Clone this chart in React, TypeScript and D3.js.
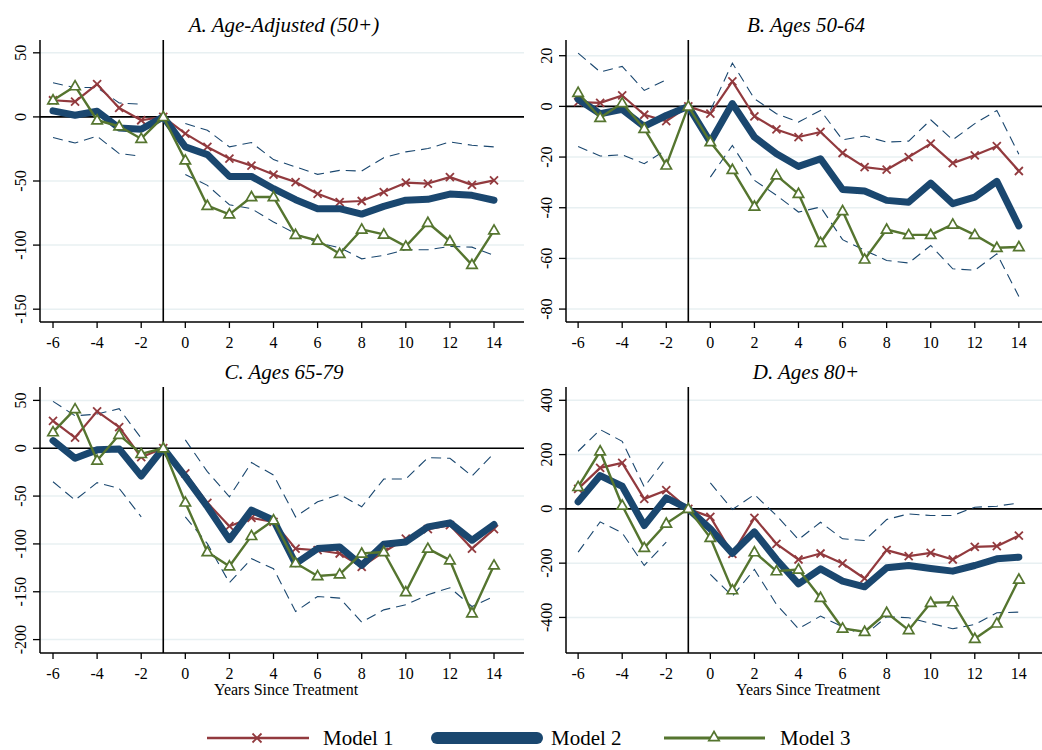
import React from "react";
import { scaleLinear, line } from "d3";

// event time, -6 .. 14 (reference year -1 normalised to zero)
const years = [-6, -5, -4, -3, -2, -1, 0, 1, 2, 3, 4, 5, 6, 7, 8, 9, 10, 11, 12, 13, 14];
const xTicks = [-6, -4, -2, 0, 2, 4, 6, 8, 10, 12, 14];

// A. Age-Adjusted (50+)
const aModel1 = [13, 12, 25.5, 7, -2.6, 0, -13, -23.4, -32.5, -38, -45, -50.8, -60, -66.4, -65.6, -58.6, -51.3, -52, -47, -53, -49.5];
const aModel2 = [4.7, 1.3, 4.4, -8.6, -9.6, 0, -23.4, -29.4, -46.4, -46.4, -56, -64.6, -71.6, -71.6, -75.8, -69.8, -65, -64.3, -60.2, -61.2, -65];
const aModel3 = [13, 24, -2.6, -7.3, -17, 0, -33.9, -69.3, -76, -62.5, -62.5, -92, -96.4, -106.8, -87.8, -91.7, -101, -82.6, -97, -115.4, -88.5];
const aUpper = [26.6, 22.9, 22.9, 10.9, 9.9, null, -5.2, -10.4, -23.4, -20, -33.3, -39, -44.8, -41.7, -42.2, -31.8, -27.3, -24.7, -19.5, -22.1, -23.4];
const aLower = [-16.1, -20.3, -15.1, -28.6, -30.7, null, -45, -53.4, -68.5, -71.6, -82, -91, -98.2, -102, -110.7, -108, -103.6, -103.6, -101, -101.6, -108];
const aTicks = [50, 0, -50, -100, -150];

// B. Ages 50-64
const bModel1 = [1.7, 1.4, 4.3, -3.3, -5.8, 0, -2.9, 9.9, -3.9, -9.1, -12.1, -10.1, -18.4, -24, -25, -20, -14.7, -22.4, -19.3, -15.7, -25.5];
const bModel2 = [2.8, -2.9, -1.2, -7.9, -3.6, 0, -14.1, 1.1, -12.1, -18.7, -23.7, -20.7, -32.8, -33.4, -37.1, -37.8, -30.3, -38.4, -35.8, -29.6, -47.2];
const bModel3 = [5.4, -4.5, 1.3, -8.8, -23.3, 0, -14.1, -25, -39.5, -27.2, -34.5, -53.8, -41.3, -60.4, -48.6, -50.7, -50.7, -46.6, -50.7, -55.8, -55.5];
const bUpper = [21, 13.6, 15.8, 6.3, 10.5, null, -1.6, 17.1, 3, -2.9, -6.2, -1.6, -13.2, -11.7, -14.1, -13.7, -5.3, -13.2, -6.8, -1.6, -18.9];
const bLower = [-15.8, -19.6, -19.1, -22.6, -17.1, null, -27.9, -15.4, -29.2, -35.1, -41.7, -39.7, -52.6, -56.8, -60.8, -61.8, -54.9, -64.1, -64.7, -58.2, -75];
const bTicks = [20, 0, -20, -40, -60, -80];

// C. Ages 65-79
const cModel1 = [28.7, 11.2, 38.5, 22, -9.4, 0, -26.2, -57, -81.5, -72.7, -77, -104.9, -106.6, -110, -124, -108.4, -94.4, -84.6, -80.4, -104.9, -84.6];
const cModel2 = [8, -10.5, -1.7, -0.7, -29, 0, -29.7, -61.2, -95.5, -64.7, -75.2, -120.6, -104.9, -103.1, -122.4, -100.3, -97.9, -82.2, -78, -96.2, -79.7];
const cModel3 = [16.8, 40.9, -12.9, 14, -5.9, 0, -56.6, -108.4, -123.4, -91.6, -75.2, -120, -133.6, -131.8, -110, -108.4, -150.3, -104.9, -117, -172.4, -122.4];
const cUpper = [49, 33.9, 35.7, 41.3, 10.5, null, 8.7, -24.5, -50.7, -15, -28, -71.7, -56, -48.3, -61.2, -32.2, -32.2, -9.8, -10.5, -29, -5.2];
const cLower = [-35, -54.2, -36, -42, -71.7, null, -71.7, -99.7, -140.6, -115.4, -125.9, -170.6, -154.9, -156.6, -181.8, -168.9, -163.6, -153.1, -145.8, -165.4, -154.9];
const cTicks = [50, 0, -50, -100, -150, -200];

// D. Ages 80+
const dModel1 = [73.6, 150.9, 169.3, 36.8, 68.7, 0, -29.4, -165.6, -33, -128.8, -186.5, -164.4, -201.2, -256.4, -152.1, -174.2, -162, -186.5, -139.9, -137.4, -98.2];
const dModel2 = [25.8, 122.7, 83.4, -61.3, 40.5, 0, -73.6, -164.4, -84.7, -186.5, -276, -220.9, -266.3, -287.1, -217.2, -208.6, -219.6, -229.4, -208.6, -184, -177.9];
const dModel3 = [81, 212.3, 12.3, -143.6, -54, 0, -106.7, -299.4, -159.5, -229.4, -223.3, -327.6, -440.5, -452.8, -382.8, -446.6, -346, -343.6, -478.5, -422, -260.1];
const dUpper = [212.3, 292, 249, 81, 187.7, null, 95.7, -2.5, 52.8, -24.5, -112.9, -49.1, -110.4, -116.6, -39.3, -18.4, -24.5, -24.5, 6.1, 9.8, 22];
const dLower = [-159.5, -47.9, -88.3, -208.6, -122.7, null, -241.7, -321.5, -223.3, -352.1, -441.7, -395.1, -434.4, -465, -397.5, -401.2, -422, -441.7, -425.8, -382.8, -380.4];
const dTicks = [400, 200, 0, -200, -400];

const legendLabels = ["Model 1", "Model 2", "Model 3"];

const RED = "#923a3e";
const NAVY = "#1a476f";
const GREEN = "#55752f";
const GRID = "#e8f0f2";
const FONT = "'Liberation Serif', 'Times New Roman', serif";

const Cross = ({ cx, cy, s = 4 }: any) => (
    <g stroke={RED} strokeWidth={1.8}>
        <line x1={cx - s} y1={cy - s} x2={cx + s} y2={cy + s} />
        <line x1={cx - s} y1={cy + s} x2={cx + s} y2={cy - s} />
    </g>
);

const Tri = ({ cx, cy }: any) => (
    <path
        d={`M${cx},${cy - 5.5}L${cx + 5.2},${cy + 3.6}L${cx - 5.2},${cy + 3.6}Z`}
        fill="white"
        stroke={GREEN}
        strokeWidth={1.7}
    />
);

const Panel = ({ title, x0, x1, y0, y1, xDomain, yDomain, yTicks, m1, m2, m3, hi, lo, xTitle }: any) => {
    const x = scaleLinear().domain(xDomain).range([x0, x1]);
    const y = scaleLinear().domain(yDomain).range([y1, y0]);
    const path = line<any>()
        .defined((d: any) => d !== null)
        .x((_d: any, i: number) => x(years[i]))
        .y((d: any) => y(d));
    const cx = (x0 + x1) / 2 + 2;

    return (
        <g>
            <text x={cx} y={y0 - 8} textAnchor="middle" fontStyle="italic" fontSize={21} fontFamily={FONT}>
                {title}
            </text>
            {yTicks.map((t: number) => (
                <line key={"g" + t} x1={x0} x2={x1} y1={y(t)} y2={y(t)} stroke={GRID} strokeWidth={1.5} />
            ))}
            <line x1={x0} x2={x1} y1={y(0)} y2={y(0)} stroke="black" strokeWidth={1.6} />
            <line x1={x(-1)} x2={x(-1)} y1={y0} y2={y1} stroke="black" strokeWidth={1.6} />

            <path d={path(hi) || ""} fill="none" stroke={NAVY} strokeWidth={1.1} strokeDasharray="10,6" />
            <path d={path(lo) || ""} fill="none" stroke={NAVY} strokeWidth={1.1} strokeDasharray="10,6" />

            <path d={path(m1) || ""} fill="none" stroke={RED} strokeWidth={2.2} strokeLinejoin="round" />
            {m1.map((v: number, i: number) => (
                <Cross key={"x" + i} cx={x(years[i])} cy={y(v)} />
            ))}
            <path d={path(m2) || ""} fill="none" stroke={NAVY} strokeWidth={7} strokeLinejoin="round" strokeLinecap="round" />
            <path d={path(m3) || ""} fill="none" stroke={GREEN} strokeWidth={2.4} strokeLinejoin="round" />
            {m3.map((v: number, i: number) => (
                <Tri key={"t" + i} cx={x(years[i])} cy={y(v)} />
            ))}

            {/* axes */}
            <line x1={x0} x2={x0} y1={y0} y2={y1} stroke="black" strokeWidth={1.5} />
            <line x1={x0} x2={x1} y1={y1} y2={y1} stroke="black" strokeWidth={1.5} />
            {yTicks.map((t: number) => (
                <g key={"yt" + t}>
                    <line x1={x0 - 7} x2={x0} y1={y(t)} y2={y(t)} stroke="black" strokeWidth={1.3} />
                    <text
                        x={x0 - 14}
                        y={y(t)}
                        transform={`rotate(-90, ${x0 - 14}, ${y(t)})`}
                        textAnchor="middle"
                        fontSize={16}
                        fontFamily={FONT}
                    >
                        {t}
                    </text>
                </g>
            ))}
            {xTicks.map((t) => (
                <g key={"xt" + t}>
                    <line x1={x(t)} x2={x(t)} y1={y1} y2={y1 + 6} stroke="black" strokeWidth={1.3} />
                    <text x={x(t)} y={y1 + 26} textAnchor="middle" fontSize={16} fontFamily={FONT}>
                        {t}
                    </text>
                </g>
            ))}
            {xTitle && (
                <text x={cx + 2} y={y1 + 42} textAnchor="middle" fontSize={16} fontFamily={FONT}>
                    Years Since Treatment
                </text>
            )}
        </g>
    );
};

const Legend = () => {
    const ly = 738;
    return (
        <g fontFamily={FONT} fontSize={21}>
            <line x1={207} x2={309} y1={ly} y2={ly} stroke={RED} strokeWidth={2.6} />
            <Cross cx={257} cy={ly} s={4.5} />
            <text x={323} y={ly + 7}>{legendLabels[0]}</text>
            <line x1={437} x2={537} y1={ly} y2={ly} stroke={NAVY} strokeWidth={12} strokeLinecap="round" />
            <text x={551} y={ly + 7}>{legendLabels[1]}</text>
            <line x1={664} x2={765} y1={ly} y2={ly} stroke={GREEN} strokeWidth={3} />
            <Tri cx={714} cy={ly - 1} />
            <text x={780} y={ly + 7}>{legendLabels[2]}</text>
        </g>
    );
};

export default function App() {
    return (
        <svg
            width={1042}
            height={750}
            style={{ position: "absolute", left: 0, top: 0, background: "white" }}
        >
            <Panel
                title="A. Age-Adjusted (50+)"
                x0={40} x1={524} y0={40} y1={322}
                xDomain={[-6.59, 15.36]} yDomain={[-160, 60]} yTicks={aTicks}
                m1={aModel1} m2={aModel2} m3={aModel3} hi={aUpper} lo={aLower}
            />
            <Panel
                title="B. Ages 50-64"
                x0={566} x1={1042} y0={40} y1={322}
                xDomain={[-6.55, 15.05]} yDomain={[-85.1, 26.2]} yTicks={bTicks}
                m1={bModel1} m2={bModel2} m3={bModel3} hi={bUpper} lo={bLower}
            />
            <Panel
                title="C. Ages 65-79"
                x0={40} x1={524} y0={387} y1={653}
                xDomain={[-6.59, 15.36]} yDomain={[-214, 64]} yTicks={cTicks}
                m1={cModel1} m2={cModel2} m3={cModel3} hi={cUpper} lo={cLower}
                xTitle
            />
            <Panel
                title="D. Ages 80+"
                x0={566} x1={1042} y0={387} y1={653}
                xDomain={[-6.55, 15.05]} yDomain={[-531, 449]} yTicks={dTicks}
                m1={dModel1} m2={dModel2} m3={dModel3} hi={dUpper} lo={dLower}
                xTitle
            />
            <Legend />
        </svg>
    );
}
